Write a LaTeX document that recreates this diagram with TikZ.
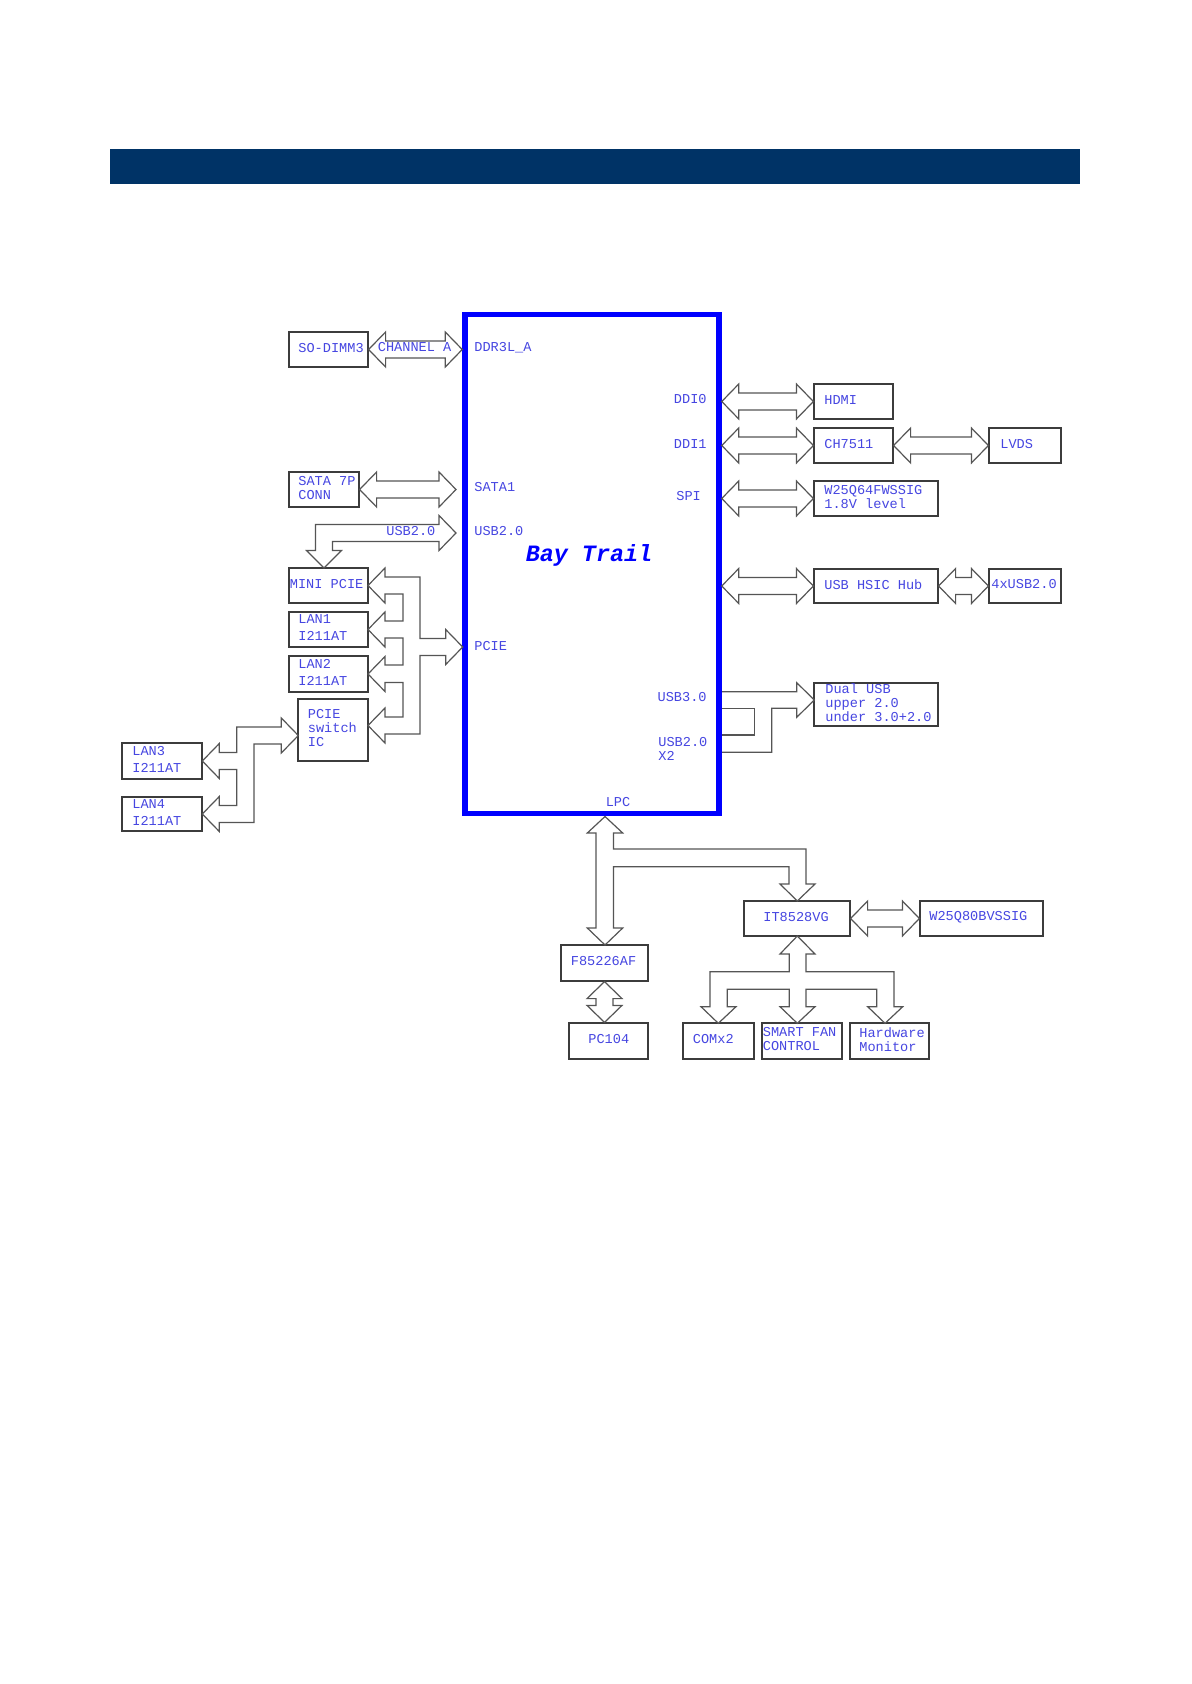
\documentclass[tikz,border=0pt]{standalone}
\usepackage{fontspec}
\newfontfamily\cour{Liberation Mono}
\usetikzlibrary{calc}
\definecolor{txtblue}{RGB}{70,70,225}
\definecolor{chipblue}{RGB}{0,0,255}
\definecolor{baynavy}{RGB}{0,51,102}
\definecolor{arrgray}{RGB}{85,85,85}
\definecolor{boxgray}{RGB}{60,60,60}
\tikzset{
  blk/.style={draw=arrgray, line width=0.6pt, fill=white, line join=miter},
  bline/.style={draw=arrgray, line width=0.6pt},
  boxs/.style={draw=boxgray, line width=0.6pt, rectangle, inner sep=0pt, fill=white},
  lbl/.style={text=txtblue, font=\cour\fontsize{6.8}{7}\selectfont, inner sep=0pt, align=left},
}
% horizontal double block arrow: #1 left tip, #2 right tip
\newcommand\hdbl[2]{\draw[blk] let \p1=#1, \p2=#2 in
  (\x1,\y1) -- (\x1+8.5pt,\y1+8.75pt) -- (\x1+8.5pt,\y1+4.25pt) -- (\x2-8.5pt,\y2+4.25pt)
  -- (\x2-8.5pt,\y2+8.75pt) -- (\x2,\y2) -- (\x2-8.5pt,\y2-8.75pt) -- (\x2-8.5pt,\y2-4.25pt)
  -- (\x1+8.5pt,\y1-4.25pt) -- (\x1+8.5pt,\y1-8.75pt) -- cycle;}
% vertical double block arrow: #1 top tip, #2 bottom tip
\newcommand\vdbl[2]{\draw[blk] let \p1=#1, \p2=#2 in
  (\x1,\y1) -- (\x1+8.75pt,\y1-8.5pt) -- (\x1+4.25pt,\y1-8.5pt) -- (\x2+4.25pt,\y2+8.5pt)
  -- (\x2+8.75pt,\y2+8.5pt) -- (\x2,\y2) -- (\x2-8.75pt,\y2+8.5pt) -- (\x2-4.25pt,\y2+8.5pt)
  -- (\x1-4.25pt,\y1-8.5pt) -- (\x1-8.75pt,\y1-8.5pt) -- cycle;}
% box: name, left, top, right, bottom, text inset, text
\newcommand\bx[7]{%
  \node[boxs, minimum width={(#4-#2)*0.5pt}, minimum height={(#5-#3)*0.5pt}] (#1) at ({(#2+#4)/2},{(#3+#5)/2}) {};
  \node[lbl, anchor=west] (#1-t) at ({#2+#6},{(#3+#5)/2-1.5}) {#7};}
\begin{document}
\begin{tikzpicture}[x=0.5pt,y=-0.5pt]
\useasboundingbox (0,0) rectangle (1191,1684);
\fill[white] (0,0) rectangle (1191,1684);
% header bar
\fill[baynavy] (110,149) rectangle (1080,184.3);

% chip
\node[draw=chipblue, line width=2.75pt, rectangle, inner sep=0pt,
      minimum width=127pt, minimum height=249.5pt] (chip) at (592,564) {};
\node[text=chipblue, font=\cour\bfseries\itshape\fontsize{11.7}{12}\selectfont, inner sep=0pt] (bt) at (589,555) {Bay Trail};
\node[lbl, anchor=west] (pddr) at (474,348) {DDR3L\_A};
\node[lbl, anchor=west] (psata) at (474,487) {SATA1};
\node[lbl, anchor=west] (pusbl) at (474,531) {USB2.0};
\node[lbl, anchor=west] (ppcie) at (474,646) {PCIE};
\node[lbl, anchor=east] (pddi0) at (707,399) {DDI0};
\node[lbl, anchor=east] (pddi1) at (707,444) {DDI1};
\node[lbl, anchor=west] (pspi) at (676,496) {SPI};
\node[lbl, anchor=east] (pusb3) at (707,697) {USB3.0};
\node[lbl, anchor=west] (pusb2) at (658,748.5) {USB2.0\\X2};
\node[lbl] (plpc) at (618,802.5) {LPC};

% boxes
\bx{sodimm}{289}{332}{368}{367}{9}{SO-DIMM3}
\bx{sata}{289}{472}{359}{507}{9}{SATA 7P\\CONN}
\bx{minipcie}{289}{568}{368}{603}{0.5}{MINI PCIE}
\bx{lana}{289}{612}{368}{647}{9}{LAN1\\[1.5pt]I211AT}
\bx{lanb}{289}{656}{368}{692}{9}{LAN2\\[1.5pt]I211AT}
\bx{pcisw}{298}{699}{368}{761}{9.5}{PCIE\\switch\\IC}
\bx{lanc}{122}{743}{202}{779}{10}{LAN3\\[1.5pt]I211AT}
\bx{land}{122}{797}{202}{831}{10}{LAN4\\[1.5pt]I211AT}
\bx{hdmi}{814}{384}{893}{419}{10}{HDMI}
\bx{chsev}{814}{428}{893}{463}{10}{CH7511}
\bx{lvds}{989}{428}{1061}{463}{11}{LVDS}
\bx{wsf}{814}{481}{938}{516}{10}{W25Q64FWSSIG\\1.8V level}
\bx{hsic}{814}{569}{938}{603}{10}{USB HSIC Hub}
\bx{usbf}{989}{569}{1061}{603}{2}{4xUSB2.0}
\bx{dual}{814}{683}{938}{726}{11}{Dual USB\\upper 2.0\\under 3.0+2.0}
\bx{ite}{744}{901}{850}{936}{19}{IT8528VG}
\bx{wse}{920}{901}{1043}{936}{9}{W25Q80BVSSIG}
\bx{fin}{561}{945}{648}{981}{9.5}{F85226AF}
\bx{pcfour}{569}{1023}{648}{1059}{19}{PC104}
\bx{com}{683}{1023}{754}{1059}{9.5}{COMx2}
\bx{fan}{762}{1023}{842}{1059}{0.5}{SMART FAN\\CONTROL}
\bx{hw}{850}{1023}{929}{1059}{9}{Hardware\\Monitor}

% simple double arrows
\hdbl{(sodimm.east)}{(chip.west |- sodimm.east)}
\node[lbl, anchor=west] (chA) at (377.5,347.5) {CHANNEL A};
\coordinate (sataend) at (456,489.5);
\hdbl{(sata.east)}{(sataend)}
\hdbl{(chip.east |- hdmi.west)}{(hdmi.west)}
\hdbl{(chip.east |- chsev.west)}{(chsev.west)}
\hdbl{(chsev.east)}{(lvds.west)}
\hdbl{(chip.east |- wsf.west)}{(wsf.west)}
\hdbl{(chip.east |- hsic.west)}{(hsic.west)}
\hdbl{(hsic.east)}{(usbf.west)}
\hdbl{(ite.east)}{(wse.west)}
\vdbl{(fin.south)}{(fin.south |- pcfour.north)}

% USB2.0 bent arrow to MINI PCIE
\draw[blk] (456,533) -- (439,515.5) -- (439,524.5) -- (315.5,524.5) -- (315.5,550.5) -- (306.5,550.5)
  -- (324,568) -- (341.5,550.5) -- (332.5,550.5) -- (332.5,541.5) -- (439,541.5) -- (439,550.5) -- cycle;
\node[lbl, anchor=west] (usbarr) at (386,531) {USB2.0};

% PCIE bus
\draw[blk] (462.7,647) -- (445.7,629.5) -- (445.7,638.5) -- (420,638.5) -- (420,577) -- (385,577) -- (385,568)
  -- (368,585.5) -- (385,603) -- (385,594) -- (403,594) -- (403,621) -- (385,621) -- (385,612)
  -- (368,629.5) -- (385,647) -- (385,638) -- (403,638) -- (403,665) -- (385,665) -- (385,656.5)
  -- (368,674) -- (385,691.5) -- (385,682.5) -- (403,682.5) -- (403,717) -- (385,717) -- (385,708)
  -- (368,725.5) -- (385,743) -- (385,734) -- (420,734) -- (420,655.5) -- (445.7,655.5) -- (445.7,664.5) -- cycle;

% PCIE switch to LAN3 / LAN4
\draw[blk] (298.3,735.5) -- (281.3,718) -- (281.3,727) -- (236.7,727) -- (236.7,752.5) -- (219.3,752.5)
  -- (219.3,743.5) -- (202.3,761) -- (219.3,778.5) -- (219.3,769.5) -- (236.7,769.5) -- (236.7,805.5)
  -- (219.3,805.5) -- (219.3,796.5) -- (202.3,814) -- (219.3,831.5) -- (219.3,822.5) -- (254,822.5)
  -- (254,744) -- (281.3,744) -- (281.3,753) -- cycle;

% USB3.0 / USB2.0 to Dual USB
\draw[blk] (722,691.7) -- (796.7,691.7) -- (796.7,682.7) -- (814.3,700) -- (796.7,717.3) -- (796.7,708.3)
  -- (771.7,708.3) -- (771.7,752.3) -- (722,752.3);
\draw[bline] (722,708.3) -- (754.3,708.3) -- (754.3,735) -- (722,735);

% LPC bus
\draw[blk] (605,816.5) -- (622.7,833) -- (613.5,833) -- (613.5,849) -- (806,849) -- (806,884) -- (815,884)
  -- (797.3,901) -- (780,884) -- (789,884) -- (789,866.7) -- (613.5,866.7) -- (613.5,928) -- (622.7,928)
  -- (605,945) -- (587.3,928) -- (596,928) -- (596,833) -- (587.3,833) -- cycle;

% IT8528VG to COM / FAN / HW
\draw[blk] (797.3,936) -- (815,954) -- (806,954) -- (806,971.7) -- (894,971.7) -- (894,1006.7) -- (902.7,1006.7)
  -- (885,1023.3) -- (867.7,1006.7) -- (876.7,1006.7) -- (876.7,989.3) -- (806,989.3) -- (806,1006.7)
  -- (815,1006.7) -- (797.3,1023.3) -- (780,1006.7) -- (789.3,1006.7) -- (789.3,989.3) -- (727.3,989.3)
  -- (727.3,1006.7) -- (736,1006.7) -- (718.3,1023.3) -- (701,1006.7) -- (710,1006.7) -- (710,971.7)
  -- (789.3,971.7) -- (789.3,954) -- (780,954) -- cycle;
\end{tikzpicture}
\end{document}
